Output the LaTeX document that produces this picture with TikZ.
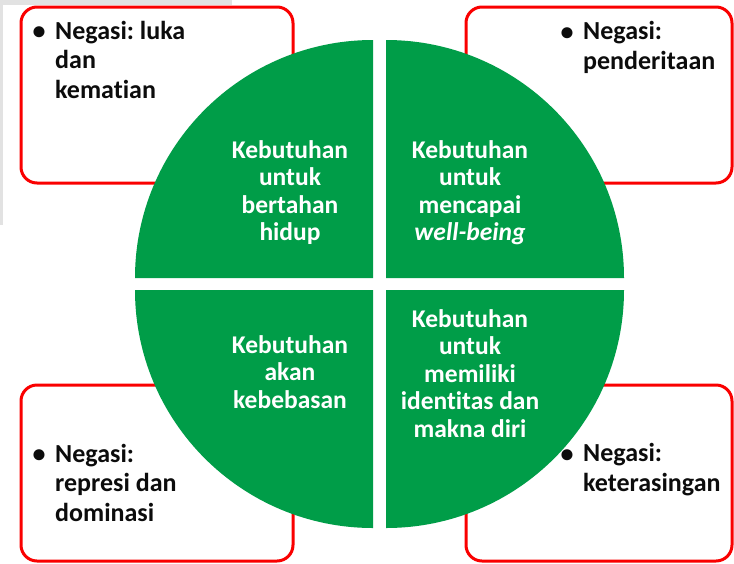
\documentclass[tikz,border=0pt]{standalone}
\usepackage{fontspec}
\setmainfont{Carlito}[Ligatures={NoCommon,NoContextual}]
\frenchspacing
\definecolor{quartergreen}{RGB}{0,157,72}
\definecolor{boxred}{RGB}{250,0,0}
\definecolor{stripgrey}{RGB}{226,226,226}
\definecolor{inkblack}{RGB}{12,12,12}
\begin{document}
\begin{tikzpicture}[x=1pt,y=-1pt,
  negbox/.style={draw=boxred,line width=3pt,rounded corners=16pt,fill=white},
  quarter/.style={fill=quartergreen,draw=none},
  needtext/.style={text=white,font=\bfseries\fontsize{25.5}{27.5}\selectfont,align=center,inner sep=0pt,anchor=base},
  negtext/.style={text=inkblack,font=\bfseries\fontsize{26}{29.5}\selectfont,align=left,inner sep=0pt,anchor=base west},
  bulletmark/.style={text=inkblack,font=\bfseries\fontsize{26}{29.5}\selectfont,inner sep=0pt,anchor=base}]
\useasboundingbox (0,0) rectangle (734,563);
\fill[white] (0,0) rectangle (734,563);
% faint grey strips
\fill[stripgrey] (0,0) rectangle (232,4.5);
\fill[stripgrey] (0,0) rectangle (2.5,225);
% red boxes
\draw[negbox] (21,7) rectangle (293,183);
\draw[negbox] (466,7) rectangle (732,183);
\draw[negbox] (21,385) rectangle (293,561);
\draw[negbox] (466,385) rectangle (732,561);
% quarters
\fill[quarter] (373,278) -- (135,278) arc[start angle=180,end angle=90,radius=238pt] -- cycle;
\fill[quarter] (386,278) -- (386,40) arc[start angle=90,end angle=0,radius=238pt] -- cycle;
\fill[quarter] (373,290) -- (135,290) arc[start angle=180,end angle=270,radius=238pt] -- cycle;
\fill[quarter] (386,290) -- (624,290) arc[start angle=0,end angle=-90,radius=238pt] -- cycle;
% need texts (anchored at the baseline of the last line)
\node[needtext] (n1) at (290,240.5) {Kebutuhan\\untuk\\bertahan\\hidup};
\node[needtext] (n2) at (470,240.5) {Kebutuhan\\untuk\\mencapai\\\textit{well-being}};
\node[needtext] (n3) at (290,408) {Kebutuhan\\akan\\kebebasan};
\node[needtext] (n4) at (470,437) {Kebutuhan\\untuk\\memiliki\\identitas dan\\makna diri};
% negation texts
\node[bulletmark] (b1) at (39,39) {•};
\node[negtext] (t1) at (55,98) {Negasi: luka\\dan\\kematian};
\node[bulletmark] (b2) at (567,40) {•};
\node[negtext] (t2) at (583,69) {Negasi:\\penderitaan};
\node[bulletmark] (b3) at (39,462) {•};
\node[negtext] (t3) at (55,521) {Negasi:\\represi dan\\dominasi};
\node[bulletmark] (b4) at (567,462) {•};
\node[negtext] (t4) at (583,491) {Negasi:\\keterasingan};
\end{tikzpicture}
\end{document}
